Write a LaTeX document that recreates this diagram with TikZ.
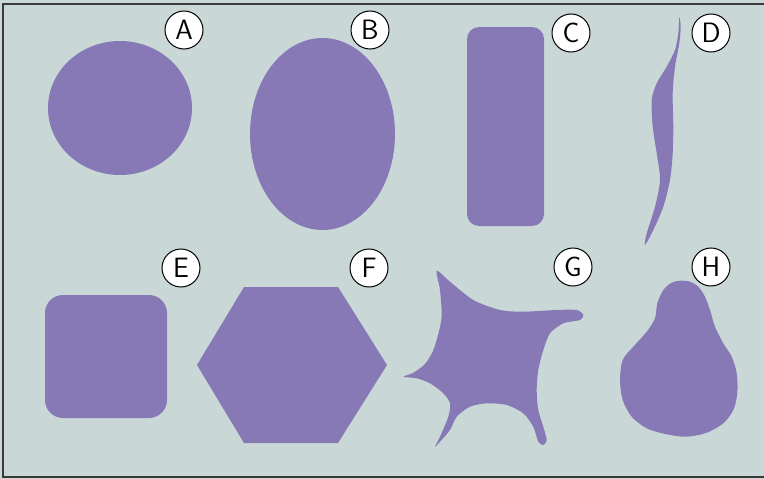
\documentclass[tikz,border=0pt]{standalone}
\usetikzlibrary{shapes.geometric}
\definecolor{bgc}{HTML}{C9D8D6}
\definecolor{cell}{HTML}{8679B6}
\definecolor{frame}{HTML}{3A3A3A}
\begin{document}
\begin{tikzpicture}[x=1pt,y=-1pt,
  lbl/.style={circle,draw=black,line width=1pt,fill=white,minimum size=38pt,inner sep=0pt,
    font=\sffamily\fontsize{28}{28}\selectfont},
  shp/.style={fill=cell,draw=none}]
\useasboundingbox (0,0) rectangle (764,479);
\fill[bgc] (0,0) rectangle (764,479);
\draw[frame,line width=2pt] (764,3.5) -- (2.5,3.5) -- (2.5,477) -- (764,477);
% A
\fill[shp] (120,108) ellipse [x radius=72, y radius=67];
% B
\fill[shp] (322.5,134) ellipse [x radius=72.5, y radius=96];
% C
\fill[shp,rounded corners=12pt] (467,27) rectangle (544,226);
% D
\fill[shp] plot[smooth cycle,tension=0.5] coordinates {
 (679.3,17.3) (680.7,26.7) (679.3,43.3) (675,66.7) (672.7,93.3) (673.3,126.7)
 (672.7,153.3) (670,180) (663.3,206.7) (653.3,230) (645,245) (646.7,233.3)
 (655,206.7) (660,180) (656.7,153.3) (652.7,126.7) (651.7,100) (656.7,83.3)
 (666.7,66.7) (675,50) (678.3,33.3)};
% E
\fill[shp,rounded corners=18pt] (45,295) rectangle (167,418);
% F
\fill[shp] (244,287) -- (338,287) -- (387,365) -- (338,443) -- (244,443) -- (197,365) -- cycle;
% G
\fill[shp] plot[smooth cycle,tension=0.45] coordinates {
 (436.7,270.7) (450,281.7) (473.3,300) (500,310) (523.3,311.7) (556.7,310)
 (576.7,310) (583.3,315) (580,320) (563.3,323.3) (550,333.3) (543.3,350)
 (538.3,370) (536.7,390) (538.3,410) (543.3,426.7) (546.7,440) (543.3,445)
 (538.3,441.7) (533.3,426.7) (523.3,413.3) (506.7,405) (486.7,403.3) (470,406.7)
 (456.7,416.7) (450,430) (440,441.7) (435,446.7) (440,436.7) (448.3,416.7)
 (450,403.3) (443.3,393.3) (430,383.3) (416.7,378.3) (403.3,376.7) (413,373)
 (425,364) (433,351) (438,335) (441.7,316.7) (440,290)};
% H
\fill[shp] plot[smooth cycle,tension=0.5] coordinates {
 (680,280.7) (690,281.7) (698.3,286.7) (705,296.7) (710,310) (715,326.7)
 (723.3,343.3) (731.7,356.7) (736.7,373.3) (737.3,393.3) (733.3,410) (723.3,423.3)
 (706.7,432.7) (686.7,436.7) (666.7,434.3) (646.7,428.3) (631.7,416.7) (622.7,400)
 (620,380) (622.7,360) (633.3,346.7) (646.7,331.7) (655,318.3) (657.3,303.3)
 (663.3,290) (671.7,282.7)};
% labels
\node[lbl] (la) at (184,30) {A};
\node[lbl] (lb) at (370,30) {B};
\node[lbl] (lc) at (571,33) {C};
\node[lbl] (ld) at (711,33) {D};
\node[lbl] (le) at (181,268) {E};
\node[lbl] (lf) at (369,268) {F};
\node[lbl] (lg) at (573,267) {G};
\node[lbl] (lh) at (711,267) {H};
\end{tikzpicture}
\end{document}
